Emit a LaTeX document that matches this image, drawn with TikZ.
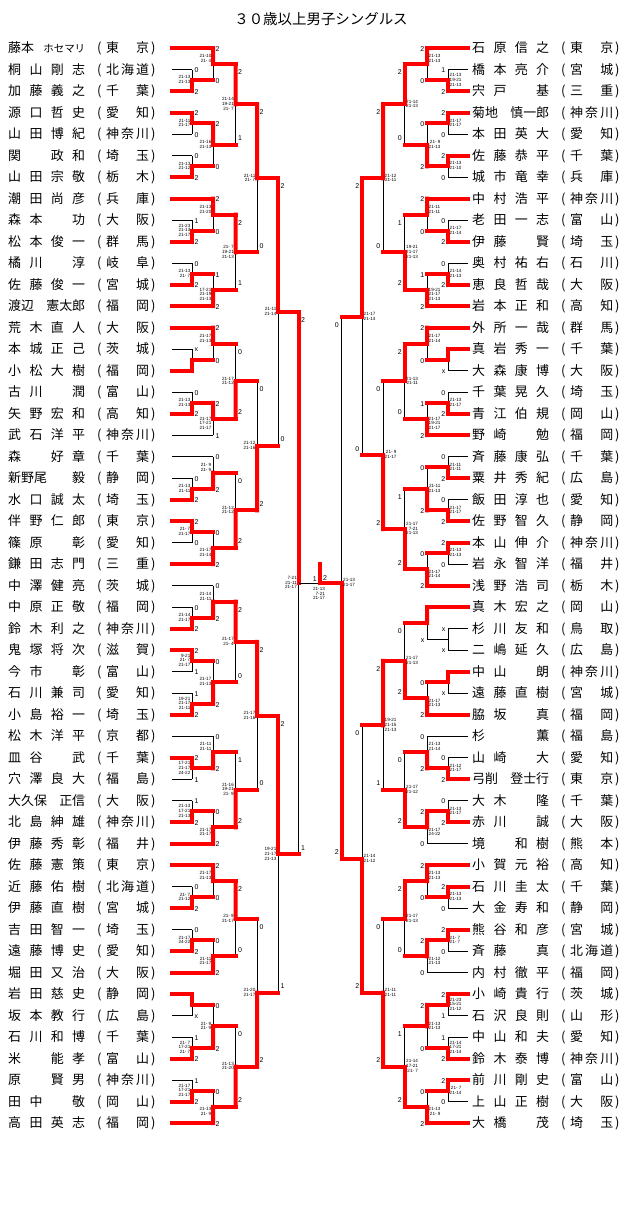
\documentclass[tikz,border=0pt]{standalone}
\usepackage{fontspec}
\setmainfont{Liberation Sans}
\newfontfamily\jp{Noto Sans CJK JP}
\usetikzlibrary{calc}
\newcommand\scfont{\fontsize{7}{7}\selectfont}
\newcommand\glfont{\fontsize{4.6}{4.7}\selectfont}
\newcommand\nmfont{\jp\fontsize{13}{13}\selectfont}
\newcommand\ttfont{\jp\fontsize{14.5}{14.5}\selectfont}
\newcommand\blk{\phantom{国}}
\def\nmq#1{\nmqx#1}
\def\nmqx#1#2#3#4{#1\hfill#2\hfill#3\hfill#4}
\def\nms#1#2{#1\hfill#2}
\def\prf#1{\prfx#1\relax}
\def\prfx#1#2#3\relax{#1\hfill#2\ifx\relax#3\relax\else\hfill#3\fi}
\newcommand\plyr[4]{%
  \if#1L\def\px{8}\else\def\px{472}\fi
  \node[nm] (nm#1#2) at (\px,{52.6+21.5*(#2-1)}) {\makebox[77bp][l]{#3}};
  \node[nm] (op#1#2) at (\px+89,{52.6+21.5*(#2-1)}) {(};
  \node[nm] (pf#1#2) at (\px+98,{52.6+21.5*(#2-1)}) {\makebox[43bp][l]{\prf{#4}}};
  \node[nm] (cp#1#2) at (\px+143,{52.6+21.5*(#2-1)}) {)};
}
\def\sgx#1#2#3{\ifx#1r\draw[rd] (#2) -- (#3);\else\draw[bk] (#2) -- (#3);\fi}
\def\mdraw#1#2#3\relax#4#5#6{%
  \draw[bk] (#6t) -- (#6b);
  \sgx#1{#4}{#6t}%
  \sgx#2{#5}{#6b}%
  \ifx#3t\draw[rd] (#6t) -- (#6);\fi
  \ifx#3b\draw[rd] (#6b) -- (#6);\fi}
\newcommand\mtch[9]{%
  \coordinate (#4t) at (#2 -| #1);
  \coordinate (#4b) at (#3 -| #1);
  \coordinate (#4) at ($(#4t)!0.5!(#4b)$);
  \mdraw#7\relax{#2}{#3}{#4}%
  \node[sc,anchor=\scanc] (#4ts) at ($(#4t)+(\scdx,\dyT)$) {#5};
  \node[sc,anchor=\scanc] (#4bs) at ($(#4b)+(\scdx,\dyB)$) {#6};
  \node[gl,anchor=\glanc] (#4g) at ($(#4)+(\gldx,#9-0.5)$) {#8};
}
\newcommand\sideL{\def\scanc{west}\def\scdx{2.5}\def\glanc{east}\def\gldx{-1.5}}
\newcommand\sideR{\def\scanc{east}\def\scdx{-2.5}\def\glanc{west}\def\gldx{1.5}}
\begin{document}
\begin{tikzpicture}[x=1bp,y=-1bp,
  bk/.style={black,line width=0.9bp},
  rd/.style={red,line width=4bp,line cap=rect},
  sc/.style={font=\scfont,inner sep=0pt},
  gl/.style={font=\glfont,inner sep=0pt,align=right},
  nm/.style={font=\nmfont,inner sep=0pt,anchor=base west},
  ttl/.style={font=\ttfont,inner sep=0pt}]
\fill[white] (0,0) rectangle (640,1205);
\useasboundingbox (0,0) rectangle (640,1205);
\node[ttl] (title) at (321,19) {３０歳以上男子シングルス};
\foreach \i in {1,...,51}{
  \coordinate (L\i) at (172,{48+21.5*(\i-1)});
  \coordinate (R\i) at (468,{48+21.5*(\i-1)});
}
\coordinate (kL1) at (192,0); \coordinate (kL2) at (213,0); \coordinate (kL3) at (235.5,0);
\coordinate (kL4) at (257,0); \coordinate (kL5) at (278,0); \coordinate (kL6) at (298.5,0);
\coordinate (kR1) at (448,0); \coordinate (kR2) at (427,0); \coordinate (kR3) at (404.5,0);
\coordinate (kR4) at (383,0); \coordinate (kR5) at (362,0); \coordinate (kR6) at (341.5,0);
\coordinate (kC) at (320,0);
% players left
\plyr{L}{1}{\nms{藤本}{{\fontsize{10.5}{10}\selectfont ホセマリ}}}{東京}
\plyr{L}{2}{\nmq{桐山剛志}}{北海道}
\plyr{L}{3}{\nmq{加藤義之}}{千葉}
\plyr{L}{4}{\nmq{源口哲史}}{愛知}
\plyr{L}{5}{\nmq{山田博紀}}{神奈川}
\plyr{L}{6}{\nmq{関\blk 政和}}{埼玉}
\plyr{L}{7}{\nmq{山田宗敬}}{栃木}
\plyr{L}{8}{\nmq{潮田尚彦}}{兵庫}
\plyr{L}{9}{\nmq{森本\blk 功}}{大阪}
\plyr{L}{10}{\nmq{松本俊一}}{群馬}
\plyr{L}{11}{\nmq{橘川\blk 淳}}{岐阜}
\plyr{L}{12}{\nmq{佐藤俊一}}{宮城}
\plyr{L}{13}{\nms{渡辺}{憲太郎}}{福岡}
\plyr{L}{14}{\nmq{荒木直人}}{大阪}
\plyr{L}{15}{\nmq{本城正己}}{茨城}
\plyr{L}{16}{\nmq{小松大樹}}{福岡}
\plyr{L}{17}{\nmq{古川\blk 潤}}{富山}
\plyr{L}{18}{\nmq{矢野宏和}}{高知}
\plyr{L}{19}{\nmq{武石洋平}}{神奈川}
\plyr{L}{20}{\nmq{森\blk 好章}}{千葉}
\plyr{L}{21}{\nms{新野尾}{毅}}{静岡}
\plyr{L}{22}{\nmq{水口誠太}}{埼玉}
\plyr{L}{23}{\nmq{伴野仁郎}}{東京}
\plyr{L}{24}{\nmq{篠原\blk 彰}}{愛知}
\plyr{L}{25}{\nmq{鎌田志門}}{三重}
\plyr{L}{26}{\nmq{中澤健亮}}{茨城}
\plyr{L}{27}{\nmq{中原正敬}}{福岡}
\plyr{L}{28}{\nmq{鈴木利之}}{神奈川}
\plyr{L}{29}{\nmq{鬼塚将次}}{滋賀}
\plyr{L}{30}{\nmq{今市\blk 彰}}{富山}
\plyr{L}{31}{\nmq{石川兼司}}{愛知}
\plyr{L}{32}{\nmq{小島裕一}}{埼玉}
\plyr{L}{33}{\nmq{松木洋平}}{京都}
\plyr{L}{34}{\nmq{皿谷\blk 武}}{千葉}
\plyr{L}{35}{\nmq{穴澤良大}}{福島}
\plyr{L}{36}{\nms{大久保}{正信}}{大阪}
\plyr{L}{37}{\nmq{北島紳雄}}{神奈川}
\plyr{L}{38}{\nmq{伊藤秀彰}}{福井}
\plyr{L}{39}{\nmq{佐藤憲策}}{東京}
\plyr{L}{40}{\nmq{近藤佑樹}}{北海道}
\plyr{L}{41}{\nmq{伊藤直樹}}{宮城}
\plyr{L}{42}{\nmq{吉田智一}}{埼玉}
\plyr{L}{43}{\nmq{遠藤博史}}{愛知}
\plyr{L}{44}{\nmq{堀田又治}}{大阪}
\plyr{L}{45}{\nmq{岩田慈史}}{静岡}
\plyr{L}{46}{\nmq{坂本教行}}{広島}
\plyr{L}{47}{\nmq{石川和博}}{千葉}
\plyr{L}{48}{\nmq{米\blk 能孝}}{富山}
\plyr{L}{49}{\nmq{原\blk 賢男}}{神奈川}
\plyr{L}{50}{\nmq{田中\blk 敬}}{岡山}
\plyr{L}{51}{\nmq{高田英志}}{福岡}
% players right
\plyr{R}{1}{\nmq{石原信之}}{東京}
\plyr{R}{2}{\nmq{橋本亮介}}{宮城}
\plyr{R}{3}{\nmq{宍戸\blk 基}}{三重}
\plyr{R}{4}{\nms{菊地}{慎一郎}}{神奈川}
\plyr{R}{5}{\nmq{本田英大}}{愛知}
\plyr{R}{6}{\nmq{佐藤恭平}}{千葉}
\plyr{R}{7}{\nmq{城市竜幸}}{兵庫}
\plyr{R}{8}{\nmq{中村浩平}}{神奈川}
\plyr{R}{9}{\nmq{老田一志}}{富山}
\plyr{R}{10}{\nmq{伊藤\blk 賢}}{埼玉}
\plyr{R}{11}{\nmq{奥村祐右}}{石川}
\plyr{R}{12}{\nmq{恵良哲哉}}{大阪}
\plyr{R}{13}{\nmq{岩本正和}}{高知}
\plyr{R}{14}{\nmq{外所一哉}}{群馬}
\plyr{R}{15}{\nmq{真岩秀一}}{千葉}
\plyr{R}{16}{\nmq{大森康博}}{大阪}
\plyr{R}{17}{\nmq{千葉晃久}}{埼玉}
\plyr{R}{18}{\nmq{青江伯規}}{岡山}
\plyr{R}{19}{\nmq{野崎\blk 勉}}{福岡}
\plyr{R}{20}{\nmq{斉藤康弘}}{千葉}
\plyr{R}{21}{\nmq{粟井秀紀}}{広島}
\plyr{R}{22}{\nmq{飯田淳也}}{愛知}
\plyr{R}{23}{\nmq{佐野智久}}{静岡}
\plyr{R}{24}{\nmq{本山伸介}}{神奈川}
\plyr{R}{25}{\nmq{岩永智洋}}{福井}
\plyr{R}{26}{\nmq{浅野浩司}}{栃木}
\plyr{R}{27}{\nmq{真木宏之}}{岡山}
\plyr{R}{28}{\nmq{杉川友和}}{鳥取}
\plyr{R}{29}{\nmq{二嶋延久}}{広島}
\plyr{R}{30}{\nmq{中山\blk 朗}}{神奈川}
\plyr{R}{31}{\nmq{遠藤直樹}}{宮城}
\plyr{R}{32}{\nmq{脇坂\blk 真}}{福岡}
\plyr{R}{33}{\nmq{杉\blk\blk 薫}}{福島}
\plyr{R}{34}{\nmq{山崎\blk 大}}{愛知}
\plyr{R}{35}{\nms{弓削}{登士行}}{東京}
\plyr{R}{36}{\nmq{大木\blk 隆}}{千葉}
\plyr{R}{37}{\nmq{赤川\blk 誠}}{大阪}
\plyr{R}{38}{\nmq{境\blk 和樹}}{熊本}
\plyr{R}{39}{\nmq{小賀元裕}}{高知}
\plyr{R}{40}{\nmq{石川圭太}}{千葉}
\plyr{R}{41}{\nmq{大金寿和}}{静岡}
\plyr{R}{42}{\nmq{熊谷和彦}}{宮城}
\plyr{R}{43}{\nmq{斉藤\blk 真}}{北海道}
\plyr{R}{44}{\nmq{内村徹平}}{福岡}
\plyr{R}{45}{\nmq{小崎貴行}}{茨城}
\plyr{R}{46}{\nmq{石沢良則}}{山形}
\plyr{R}{47}{\nmq{中山和夫}}{愛知}
\plyr{R}{48}{\nmq{鈴木泰博}}{神奈川}
\plyr{R}{49}{\nmq{前川剛史}}{富山}
\plyr{R}{50}{\nmq{上山正樹}}{大阪}
\plyr{R}{51}{\nmq{大橋\blk 茂}}{埼玉}
% ---------- left bracket
\sideL
\def\dyT{1}\def\dyB{1}
\mtch{kL1}{L2}{L3}{a1}{0}{2}{krb}{21-13\\21-13}{0}
\mtch{kL1}{L4}{L5}{a2}{2}{0}{rkt}{21-11\\21-17}{0}
\mtch{kL1}{L6}{L7}{a3}{0}{2}{krb}{21-13\\21-12}{0}
\mtch{kL1}{L9}{L10}{a4}{1}{2}{krb}{21-23\\21-13\\21-17}{0}
\mtch{kL1}{L11}{L12}{a5}{0}{2}{krb}{21-13\\21- 7}{0}
\mtch{kL1}{L15}{L16}{a6}{x}{}{krb}{}{0}
\mtch{kL1}{L17}{L18}{a7}{0}{2}{krb}{21-13\\21-13}{0}
\mtch{kL1}{L21}{L22}{a8}{0}{2}{krb}{21-13\\21-11}{0}
\mtch{kL1}{L23}{L24}{a9}{2}{0}{rkt}{21- 7\\21-17}{0}
\mtch{kL1}{L27}{L28}{a10}{0}{2}{krb}{21-14\\21-17}{0}
\mtch{kL1}{L29}{L30}{a11}{2}{1}{rkt}{9-21\\21- 7\\21-17}{0}
\mtch{kL1}{L31}{L32}{a12}{1}{2}{krb}{19-21\\21-17\\21-11}{0}
\mtch{kL1}{L34}{L35}{a13}{2}{1}{rkt}{17-21\\21-17\\24-22}{0}
\mtch{kL1}{L36}{L37}{a14}{1}{2}{krb}{21-13\\17-21\\21-13}{0}
\mtch{kL1}{L40}{L41}{a15}{0}{2}{krb}{21- 7\\21-12}{0}
\mtch{kL1}{L42}{L43}{a16}{0}{2}{krb}{21-17\\24-22}{0}
\mtch{kL1}{L45}{L46}{a17}{}{x}{rkt}{}{0}
\mtch{kL1}{L47}{L48}{a18}{1}{2}{krb}{21- 7\\17-21\\21- 7}{0}
\mtch{kL1}{L49}{L50}{a19}{1}{2}{krb}{21-17\\17-21\\21-17}{0}
\mtch{kL2}{L1}{a1}{b1}{2}{0}{rrt}{21-10\\21- 4}{-5}
\mtch{kL2}{a2}{a3}{b2}{2}{0}{rrt}{21-16\\21-13}{0}
\mtch{kL2}{L8}{a4}{b3}{2}{0}{rrt}{21-13\\21-20}{-5}
\mtch{kL2}{a5}{L13}{b4}{1}{2}{rrb}{17-21\\21-19\\21-13}{5}
\mtch{kL2}{L14}{a6}{b5}{2}{0}{rrt}{21-17\\21-13}{-5}
\mtch{kL2}{a7}{L19}{b6}{2}{1}{rkt}{21-17\\17-21\\21-17}{5}
\mtch{kL2}{L20}{a8}{b7}{0}{2}{krb}{21- 9\\21- 9}{-5}
\mtch{kL2}{a9}{L25}{b8}{0}{2}{rrb}{21-17\\21-14}{5}
\mtch{kL2}{L26}{a10}{b9}{0}{2}{krb}{21-14\\21-11}{-5}
\mtch{kL2}{a11}{a12}{b10}{0}{2}{rrb}{21-17\\21-13}{0}
\mtch{kL2}{L33}{a13}{b11}{0}{2}{krb}{21-11\\21-11}{-5}
\mtch{kL2}{a14}{L38}{b12}{0}{2}{rrb}{21-17\\21-17}{5}
\mtch{kL2}{L39}{a15}{b13}{2}{0}{rrt}{21-17\\21-13}{-5}
\mtch{kL2}{a16}{L44}{b14}{0}{2}{rrb}{21-11\\21-17}{5}
\mtch{kL2}{a17}{a18}{b15}{0}{2}{rrb}{21- 9\\21- 9}{0}
\mtch{kL2}{a19}{L51}{b16}{0}{2}{rrb}{21-13\\21- 9}{5}
\def\dyT{8}\def\dyB{-6.5}
\mtch{kL3}{b1}{b2}{c1}{2}{1}{rrt}{21-14\\19-21\\21- 7}{0}
\mtch{kL3}{b3}{b4}{c2}{2}{1}{rrt}{21- 7\\19-21\\21-13}{0}
\mtch{kL3}{b5}{b6}{c3}{0}{2}{rrb}{21-17\\21-12}{0}
\mtch{kL3}{b7}{b8}{c4}{0}{2}{rrb}{21-12\\21-12}{0}
\mtch{kL3}{b9}{b10}{c5}{2}{0}{rrt}{21-17\\21- 4}{0}
\mtch{kL3}{b11}{b12}{c6}{1}{2}{rrb}{21-16\\19-21\\21- 9}{0}
\mtch{kL3}{b13}{b14}{c7}{2}{0}{rrt}{21- 9\\21-17}{0}
\mtch{kL3}{b15}{b16}{c8}{0}{2}{rrb}{21-13\\21-20}{0}
\mtch{kL4}{c1}{c2}{d1}{2}{0}{rrt}{21-11\\21- 7}{0}
\mtch{kL4}{c3}{c4}{d2}{0}{2}{rrb}{21-12\\21-16}{0}
\mtch{kL4}{c5}{c6}{d3}{2}{0}{rrt}{21-17\\21-16}{0}
\mtch{kL4}{c7}{c8}{d4}{0}{2}{rrb}{21-20\\21-17}{0}
\mtch{kL5}{d1}{d2}{e1}{2}{0}{rrt}{21-11\\21-14}{0}
\mtch{kL5}{d3}{d4}{e2}{2}{1}{rrt}{19-21\\21-17\\21-13}{0}
\mtch{kL6}{e1}{e2}{f1}{2}{1}{rrt}{7-21\\21-11\\21-17}{0}
% ---------- right bracket
\sideR
\def\dyT{1}\def\dyB{1}
\mtch{kR1}{R2}{R3}{ra1}{1}{2}{krb}{21-13\\19-21\\21-13}{0}
\mtch{kR1}{R4}{R5}{ra2}{2}{0}{rkt}{21-17\\21-17}{0}
\mtch{kR1}{R6}{R7}{ra3}{2}{0}{rkt}{21-13\\21-10}{0}
\mtch{kR1}{R9}{R10}{ra4}{0}{2}{krb}{21-17\\21-14}{0}
\mtch{kR1}{R11}{R12}{ra5}{0}{2}{krb}{21-14\\21-13}{0}
\mtch{kR1}{R15}{R16}{ra6}{}{x}{rkt}{}{0}
\mtch{kR1}{R17}{R18}{ra7}{0}{2}{krb}{21-13\\21-17}{0}
\mtch{kR1}{R20}{R21}{ra8}{0}{2}{krb}{21-11\\21-11}{0}
\mtch{kR1}{R22}{R23}{ra9}{0}{2}{krb}{21-17\\21-17}{0}
\mtch{kR1}{R24}{R25}{ra10}{2}{0}{rkt}{21-13\\21-13}{0}
\mtch{kR1}{R28}{R29}{ra11}{x}{x}{kkn}{}{0}
\mtch{kR1}{R30}{R31}{ra12}{}{x}{rkt}{}{0}
\mtch{kR1}{R34}{R35}{ra13}{0}{2}{krb}{21-12\\21-17}{0}
\mtch{kR1}{R36}{R37}{ra14}{0}{2}{krb}{21-13\\21-17}{0}
\mtch{kR1}{R40}{R41}{ra15}{2}{0}{rkt}{21-13\\21-13}{0}
\mtch{kR1}{R42}{R43}{ra16}{2}{0}{rkt}{21- 7\\21- 7}{0}
\mtch{kR1}{R45}{R46}{ra17}{2}{1}{rkt}{21-23\\15-21\\21-12}{0}
\mtch{kR1}{R47}{R48}{ra18}{1}{2}{krb}{21-14\\17-21\\21-14}{0}
\mtch{kR1}{R49}{R50}{ra19}{2}{0}{rkt}{21- 7\\21-14}{0}
\mtch{kR2}{R1}{ra1}{rb1}{2}{0}{rrt}{21-13\\21-13}{-5}
\mtch{kR2}{ra2}{ra3}{rb2}{0}{2}{rrb}{21- 9\\21-13}{0}
\mtch{kR2}{R8}{ra4}{rb3}{2}{0}{rrt}{21-11\\21-11}{-5}
\mtch{kR2}{ra5}{R13}{rb4}{1}{2}{rrb}{19-21\\21-17\\21-13}{5}
\mtch{kR2}{R14}{ra6}{rb5}{2}{0}{rrt}{21-17\\21-14}{-5}
\mtch{kR2}{ra7}{R19}{rb6}{1}{2}{rrb}{21-17\\19-21\\21-17}{5}
\mtch{kR2}{ra8}{ra9}{rb7}{0}{2}{rrb}{21-11\\21-13}{0}
\mtch{kR2}{ra10}{R26}{rb8}{0}{2}{rrb}{21-17\\21-14}{5}
\mtch{kR2}{R27}{ra11}{rb9}{}{x}{rkt}{}{0}
\mtch{kR2}{ra12}{R32}{rb10}{0}{2}{rrb}{21-17\\21-13}{5}
\mtch{kR2}{R33}{ra13}{rb11}{0}{2}{krb}{21-13\\21-14}{-5}
\mtch{kR2}{ra14}{R38}{rb12}{2}{0}{rkt}{21-17\\24-22}{5}
\mtch{kR2}{R39}{ra15}{rb13}{2}{0}{rrt}{21-13\\21-13}{-5}
\mtch{kR2}{ra16}{R44}{rb14}{2}{0}{rkt}{21-12\\21-13}{5}
\mtch{kR2}{ra17}{ra18}{rb15}{2}{0}{rrt}{21-13\\21-13}{0}
\mtch{kR2}{ra19}{R51}{rb16}{0}{2}{rrb}{21-13\\21- 9}{5}
\def\dyT{8}\def\dyB{-6.5}
\mtch{kR3}{rb1}{rb2}{rc1}{2}{0}{rrt}{21-14\\21-13}{0}
\mtch{kR3}{rb3}{rb4}{rc2}{1}{2}{rrb}{19-21\\21-17\\21-13}{0}
\mtch{kR3}{rb5}{rb6}{rc3}{2}{0}{rrt}{21-13\\21-11}{0}
\mtch{kR3}{rb7}{rb8}{rc4}{1}{2}{rrb}{21-17\\7-21\\21-13}{0}
\mtch{kR3}{rb9}{rb10}{rc5}{0}{2}{rrb}{21-17\\21-13}{0}
\mtch{kR3}{rb11}{rb12}{rc6}{0}{2}{rrb}{21-17\\21-12}{0}
\mtch{kR3}{rb13}{rb14}{rc7}{2}{0}{rrt}{21-17\\21-13}{0}
\mtch{kR3}{rb15}{rb16}{rc8}{1}{2}{rrb}{21-14\\17-21\\21- 7}{0}
\mtch{kR4}{rc1}{rc2}{rd1}{2}{0}{rrt}{21-12\\21-11}{0}
\mtch{kR4}{rc3}{rc4}{rd2}{0}{2}{rrb}{21- 9\\21-17}{0}
\mtch{kR4}{rc5}{rc6}{rd3}{2}{1}{rrt}{19-21\\21-15\\21-13}{0}
\mtch{kR4}{rc7}{rc8}{rd4}{0}{2}{rrb}{21-11\\21-11}{0}
\mtch{kR5}{rd1}{rd2}{re1}{2}{0}{rrt}{21-17\\21-14}{0}
\mtch{kR5}{rd3}{rd4}{re2}{0}{2}{rrb}{21-14\\21-12}{0}
% right semi-final (column 6)
\coordinate (g1) at (re1 -| kR6);
\coordinate (g2) at (re2 -| kR6);
\coordinate (rf) at (f1 -| kR6);
\draw[bk] (g1) -- (g2);
\draw[rd] (re1) -- (g1);
\draw[rd] (re2) -- (g2);
\draw[rd] (g2) -- (rf);
\node[sc,anchor=east] (g1s) at ($(g1)+(-2.5,8)$) {0};
\node[sc,anchor=east] (g2s) at ($(g2)+(-2.5,-6.5)$) {2};
\node[gl,anchor=west] (rfg) at ($(rf)+(1.5,-0.5)$) {21-13\\21-17};
% final
\coordinate (fin) at (f1 -| kC);
\coordinate (champ) at ($(fin)+(0,-19)$);
\draw[bk] (f1) -- (fin);
\draw[rd] (fin) -- (rf);
\draw[rd] (fin) -- (champ);
\node[sc,anchor=south east] (fls) at ($(fin)+(-3,-1.5)$) {1};
\node[sc,anchor=south west] (frs) at ($(fin)+(3,-2.5)$) {2};
\node[gl,anchor=north] (fing) at ($(fin)+(-1,4)$) {21-13\\7-21\\21-17};
\end{tikzpicture}
\end{document}
